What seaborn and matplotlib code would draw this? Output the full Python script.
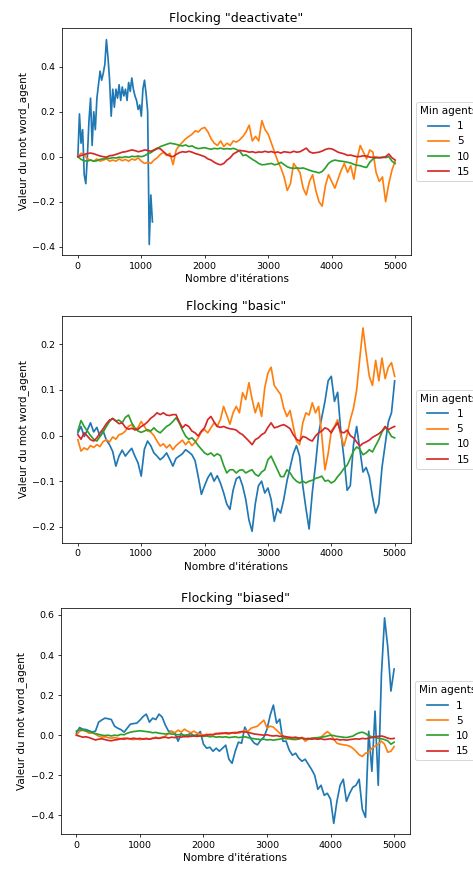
import matplotlib
matplotlib.use("Agg")
import matplotlib.pyplot as plt
import seaborn as sns
import pandas as pd

# Iteration grids
iterations = list(range(0, 5001, 50))
iterations_deact_1 = list(range(0, 1176, 25))

min_agents = ["1", "5", "10", "15"]
titles = ['Flocking "deactivate"', 'Flocking "basic"', 'Flocking "biased"']
x_label = "Nombre d'itérations"
y_label = "Valeur du mot word_agent"

# ---- Flocking "deactivate" ----
deact_1 = [
    0.00, 0.19, 0.06, 0.12, -0.08, -0.12, 0.00, 0.16, 0.26, 0.05,
    0.20, 0.12, 0.26, 0.32, 0.38, 0.34, 0.37, 0.41, 0.52, 0.44,
    0.34, 0.18, 0.30, 0.22, 0.30, 0.26, 0.32, 0.25, 0.31, 0.27,
    0.30, 0.25, 0.33, 0.29, 0.35, 0.30, 0.27, 0.25, 0.21, 0.23,
    0.18, 0.30, 0.34, 0.28, 0.20, -0.39, -0.17, -0.29,
]
deact_5 = [
    0.00, 0.015, 0.01, -0.01, -0.015, -0.02, -0.01, -0.02, -0.015, -0.01,
    -0.02, -0.015, -0.02, -0.01, -0.018, -0.012, -0.02, -0.01, -0.015, -0.005,
    -0.02, -0.03, -0.025, -0.03, -0.015, -0.005, 0.01, 0.02, 0.005, 0.015,
    -0.035, 0.03, 0.05, 0.065, 0.08, 0.09, 0.10, 0.115, 0.11, 0.125,
    0.13, 0.11, 0.08, 0.06, 0.05, 0.07, 0.045, 0.06, 0.05, 0.07,
    0.065, 0.075, 0.09, 0.11, 0.14, 0.07, 0.09, 0.07, 0.16, 0.12,
    0.10, 0.06, 0.02, -0.02, -0.05, -0.09, -0.15, -0.12, -0.03, -0.05,
    -0.07, -0.14, -0.17, -0.11, -0.08, -0.15, -0.20, -0.22, -0.13, -0.08,
    -0.11, -0.14, -0.10, -0.06, -0.03, -0.07, -0.04, -0.10, -0.01, 0.05,
    0.02, -0.01, 0.03, 0.02, -0.07, -0.11, -0.09, -0.20, -0.12, -0.06,
    -0.02,
]
deact_10 = [
    0.0, -0.012, -0.018, -0.02, -0.015, -0.02, -0.018, -0.012, -0.01, -0.006,
    -0.008, -0.004, -0.006, -0.002, -0.004, 0.0, -0.003, 0.002, 0.0, 0.003,
    0.0, 0.004, 0.012, 0.018, 0.028, 0.035, 0.045, 0.05, 0.055, 0.06,
    0.058, 0.055, 0.05, 0.048, 0.052, 0.045, 0.048, 0.04, 0.036, 0.038,
    0.04, 0.036, 0.033, 0.037, 0.035, 0.038, 0.034, 0.036, 0.034, 0.037,
    0.032, 0.025, 0.005, 0.008, -0.002, -0.012, -0.02, -0.03, -0.036, -0.035,
    -0.032, -0.03, -0.036, -0.033, -0.025, -0.035, -0.045, -0.05, -0.052, -0.05,
    -0.052, -0.05, -0.055, -0.06, -0.065, -0.068, -0.072, -0.066, -0.05, -0.03,
    -0.02, -0.015, -0.018, -0.02, -0.022, -0.025, -0.028, -0.034, -0.038, -0.04,
    -0.045, -0.048, -0.025, -0.01, -0.005, -0.004, -0.002, -0.004, 0.0, -0.02,
    -0.03,
]
deact_15 = [
    0.0, 0.005, 0.01, 0.014, 0.016, 0.013, 0.008, 0.003, 0.0, -0.002,
    0.004, 0.006, 0.01, 0.015, 0.02, 0.022, 0.026, 0.03, 0.027, 0.022,
    0.025, 0.03, 0.028, 0.024, 0.03, 0.038, 0.035, 0.022, 0.01, 0.003,
    0.0, 0.01, 0.018, 0.022, 0.02, 0.024, 0.02, 0.014, 0.01, 0.005,
    0.0, -0.01, -0.015, -0.025, -0.032, -0.036, -0.03, -0.015, -0.005, 0.012,
    0.02, 0.028, 0.026, 0.024, 0.02, 0.022, 0.018, 0.021, 0.02, 0.024,
    0.02, 0.023, 0.018, 0.021, 0.016, 0.022, 0.02, 0.018, 0.024, 0.02,
    0.022, 0.03, 0.038, 0.022, 0.016, 0.018, 0.02, 0.025, 0.032, 0.036,
    0.035, 0.028, 0.02, 0.016, 0.012, 0.006, 0.007, 0.003, 0.0, 0.001,
    0.004, 0.003, -0.002, -0.003, -0.002, -0.005, -0.004, 0.0, 0.012, -0.005,
    -0.015,
]

# ---- Flocking "basic" ----
basic_1 = [
    0.006, 0.02, -0.002, 0.012, 0.028, 0.008, 0.018, -0.002, 0.01, -0.01,
    -0.02, -0.035, -0.067, -0.045, -0.032, -0.045, -0.036, -0.028, -0.045, -0.06,
    -0.089, -0.03, -0.012, -0.022, -0.038, -0.045, -0.053, -0.047, -0.038, -0.052,
    -0.067, -0.05, -0.045, -0.04, -0.031, -0.036, -0.042, -0.055, -0.09, -0.129,
    -0.11, -0.093, -0.082, -0.1, -0.088, -0.104, -0.125, -0.15, -0.162, -0.12,
    -0.095, -0.09, -0.11, -0.14, -0.185, -0.21, -0.15, -0.11, -0.1, -0.126,
    -0.115, -0.14, -0.188, -0.16, -0.17, -0.14, -0.1, -0.07, -0.04, -0.022,
    -0.045, -0.11, -0.16, -0.205, -0.125, -0.065, 0.005, 0.04, 0.075, 0.12,
    0.13, 0.075, 0.095, 0.01, -0.05, -0.12, -0.11, -0.02, 0.02, -0.03,
    -0.08, -0.07, -0.09, -0.135, -0.17, -0.15, -0.07, -0.02, 0.03, 0.05,
    0.12,
]
basic_5 = [
    -0.009, -0.034, -0.027, -0.031, -0.022, -0.026, -0.02, -0.024, -0.013, -0.009,
    -0.014, -0.003, -0.008, 0.002, 0.004, 0.01, 0.02, 0.024, 0.012, 0.018,
    0.031, 0.02, 0.01, 0.008, 0.0, -0.012, -0.023, -0.018, -0.027, -0.02,
    -0.031, -0.022, -0.016, -0.01, -0.02, -0.012, -0.022, -0.015, -0.005, 0.008,
    0.013, 0.006, 0.017, 0.028, 0.02, 0.035, 0.064, 0.045, 0.025, 0.05,
    0.064, 0.05, 0.094, 0.079, 0.116, 0.08, 0.05, 0.072, 0.042, 0.105,
    0.137, 0.15, 0.11, 0.1, 0.09, 0.06, 0.042, 0.055, 0.02, -0.012,
    -0.02, 0.028, 0.05, 0.045, 0.072, 0.05, 0.064, 0.0, -0.075, -0.04,
    0.01, 0.02, 0.035, 0.0, -0.023, 0.002, 0.035, 0.06, 0.1, 0.17,
    0.236, 0.18, 0.13, 0.11, 0.165, 0.12, 0.17, 0.125, 0.15, 0.16,
    0.13,
]
basic_10 = [
    0.01, 0.033, 0.02, 0.01, 0.0, -0.008, -0.012, -0.002, 0.008, 0.02,
    0.031, 0.038, 0.032, 0.034, 0.028, 0.04, 0.045, 0.028, 0.017, 0.01,
    0.007, 0.01, 0.013, 0.01, 0.017, 0.01, 0.006, 0.013, 0.02, 0.024,
    0.031, 0.039, 0.028, 0.012, -0.001, -0.008, -0.005, -0.012, -0.022, -0.03,
    -0.038, -0.042, -0.038, -0.045, -0.04, -0.044, -0.065, -0.082, -0.075, -0.075,
    -0.082, -0.076, -0.075, -0.082, -0.078, -0.075, -0.085, -0.089, -0.08, -0.075,
    -0.053, -0.045, -0.06, -0.075, -0.09, -0.09, -0.075, -0.082, -0.093, -0.1,
    -0.104, -0.1, -0.104, -0.1, -0.098, -0.094, -0.092, -0.089, -0.1, -0.098,
    -0.104, -0.1, -0.09, -0.082, -0.072, -0.065, -0.05, -0.034, -0.025, -0.03,
    -0.042, -0.038, -0.031, -0.036, -0.022, -0.009, 0.008, 0.018, 0.01, -0.002,
    -0.005,
]
basic_15 = [
    0.002, -0.008, 0.006, -0.001, -0.009, -0.012, -0.005, 0.006, 0.015, 0.026,
    0.034, 0.037, 0.032, 0.026, 0.028, 0.018, 0.014, 0.016, 0.013, 0.014,
    0.02, 0.024, 0.03, 0.038, 0.043, 0.05, 0.046, 0.05, 0.045, 0.044,
    0.046, 0.046, 0.03, 0.017, 0.024, 0.02, 0.01, 0.006, -0.001, 0.01,
    0.017, 0.035, 0.042, 0.03, 0.02, 0.018, 0.02, 0.017, 0.015, 0.014,
    0.012, 0.006, 0.002, -0.005, -0.012, -0.02, -0.009, -0.005, 0.002, 0.006,
    0.018, 0.028, 0.017, 0.019, 0.022, 0.024, 0.02, 0.015, 0.002, -0.008,
    -0.012, -0.002, -0.004, -0.009, -0.012, -0.001, 0.006, 0.01, 0.017, 0.014,
    0.006, 0.018, 0.028, 0.008, 0.006, 0.012, 0.0, -0.005, -0.014, -0.023,
    -0.017, -0.014, -0.01, -0.004, 0.0, 0.004, 0.01, 0.02, 0.013, 0.017,
    0.02,
]

# ---- Flocking "biased" ----
biased_1 = [
    0.01, 0.038, 0.03, 0.028, 0.022, 0.016, 0.02, 0.065, 0.076, 0.085,
    0.082, 0.078, 0.045, 0.035, 0.028, 0.015, 0.035, 0.055, 0.058, 0.06,
    0.075, 0.093, 0.105, 0.065, 0.085, 0.078, 0.105, 0.09, 0.05, 0.02,
    0.018, 0.01, -0.03, 0.008, -0.008, 0.0, 0.01, -0.005, 0.002, 0.018,
    -0.045, -0.065, -0.06, -0.08, -0.065, -0.08, -0.065, -0.05, -0.12, -0.14,
    -0.08, -0.035, -0.04, 0.04, 0.01, -0.02, -0.04, -0.048, -0.025, -0.01,
    0.03, 0.1, 0.15, 0.06, 0.08, -0.03, -0.03, -0.075, -0.1, -0.09,
    -0.115, -0.13, -0.12, -0.145, -0.17, -0.2, -0.27, -0.25, -0.3, -0.29,
    -0.32, -0.44, -0.33, -0.25, -0.22, -0.33, -0.29, -0.26, -0.25, -0.22,
    -0.37, -0.41, 0.02, -0.18, 0.12, -0.25, 0.3, 0.585, 0.44, 0.22,
    0.33,
]
biased_5 = [
    0.0, 0.02, 0.025, 0.02, 0.01, 0.012, 0.005, -0.005, -0.01, -0.008,
    -0.012, -0.015, -0.012, -0.015, -0.018, -0.014, -0.016, -0.02, -0.022, -0.018,
    -0.022, -0.018, -0.015, -0.02, -0.015, -0.01, -0.015, -0.01, -0.005, 0.01,
    0.02, 0.012, 0.025, 0.015, 0.03, 0.02, 0.012, 0.02, 0.01, 0.005,
    0.0, 0.005, 0.0, 0.004, 0.01, 0.005, 0.012, 0.008, 0.005, 0.012,
    0.015, 0.01, 0.015, 0.025, 0.02, 0.035, 0.04, 0.045, 0.06, 0.075,
    0.035, 0.045, 0.04, 0.025, 0.01, -0.005, -0.02, -0.018, -0.022, -0.015,
    -0.02, -0.01, -0.03, -0.02, -0.015, -0.012, -0.02, -0.01, 0.005, 0.018,
    0.005, -0.02, -0.04, -0.045, -0.048, -0.05, -0.055, -0.065, -0.08, -0.098,
    -0.106, -0.09, -0.085, -0.065, -0.055, -0.045, -0.03, -0.045, -0.085, -0.08,
    -0.057,
]
biased_10 = [
    0.02, 0.028, 0.025, 0.022, 0.018, 0.012, 0.008, 0.004, 0.0, -0.002,
    0.0, -0.004, 0.0, -0.002, 0.004, 0.002, 0.01, 0.015, 0.018, 0.02,
    0.022, 0.02, 0.018, 0.016, 0.012, 0.014, 0.01, 0.008, 0.006, 0.008,
    0.006, 0.004, 0.002, 0.004, 0.0, 0.002, -0.002, 0.0, -0.002, -0.004,
    -0.006, -0.004, -0.008, -0.006, -0.01, -0.008, -0.01, -0.008, -0.012, -0.01,
    -0.008, -0.012, -0.01, -0.008, -0.012, -0.015, -0.018, -0.02, -0.022, -0.02,
    -0.024, -0.022, -0.025, -0.022, -0.02, -0.016, -0.014, -0.016, -0.02, -0.022,
    -0.018, -0.015, -0.018, -0.02, -0.016, -0.014, -0.012, -0.01, -0.008, -0.004,
    0.0, -0.002, -0.006, -0.008, -0.01, -0.012, -0.008, -0.005, 0.005, 0.012,
    0.015, 0.008, -0.002, -0.008, -0.01, -0.015, -0.018, -0.022, -0.028, -0.045,
    -0.035,
]
biased_15 = [
    0.0, -0.005, -0.01, -0.008, -0.012, -0.018, -0.024, -0.02, -0.018, -0.022,
    -0.026, -0.028, -0.024, -0.022, -0.018, -0.02, -0.016, -0.018, -0.015, -0.018,
    -0.016, -0.02, -0.018, -0.02, -0.016, -0.014, -0.016, -0.012, -0.01, -0.014,
    -0.01, -0.012, -0.008, -0.01, -0.006, -0.008, -0.006, -0.004, -0.006, -0.004,
    -0.002, 0.0, 0.004, 0.002, 0.006, 0.01, 0.008, 0.012, 0.01, 0.012,
    0.01, 0.015, 0.018, 0.016, 0.014, 0.01, 0.006, 0.004, 0.002, 0.0,
    0.002, -0.002, -0.004, -0.002, -0.006, -0.004, -0.008, -0.01, -0.012, -0.01,
    -0.014, -0.015, -0.018, -0.016, -0.02, -0.018, -0.02, -0.018, -0.022, -0.02,
    -0.018, -0.022, -0.02, -0.024, -0.022, -0.025, -0.022, -0.02, -0.018, -0.02,
    -0.016, -0.018, -0.015, -0.012, -0.008, -0.006, -0.004, -0.008, -0.015, -0.018,
    -0.016,
]


def long_frame(xs_list, ys_list):
    parts = []
    for label, xs, ys in zip(min_agents, xs_list, ys_list):
        parts.append(pd.DataFrame({"iteration": xs, "valeur": ys, "Min agents": label}))
    return pd.concat(parts, ignore_index=True)


panels = [
    long_frame([iterations_deact_1, iterations, iterations, iterations],
               [deact_1, deact_5, deact_10, deact_15]),
    long_frame([iterations] * 4, [basic_1, basic_5, basic_10, basic_15]),
    long_frame([iterations] * 4, [biased_1, biased_5, biased_10, biased_15]),
]

DPI = 68
W, H = 473, 869
plt.rcParams.update({
    "font.size": 11,
    "axes.titlesize": 13.2,
    "axes.labelsize": 11,
    "xtick.labelsize": 10,
    "ytick.labelsize": 10,
    "legend.fontsize": 11,
    "legend.title_fontsize": 11,
})
fig = plt.figure(figsize=(W / DPI, H / DPI), dpi=DPI)

# axes boxes in pixels: left, top, right, bottom
boxes = [(62, 28, 411, 255), (62, 315.7, 410.5, 542.7), (60.5, 607.7, 410, 834)]
ylims = [(-0.437, 0.572), (-0.235, 0.263), (-0.493, 0.636)]
palette = sns.color_palette("tab10", 4)

for df, title, (l, t, r, b), ylim in zip(panels, titles, boxes, ylims):
    ax = fig.add_axes([l / W, 1 - b / H, (r - l) / W, (b - t) / H])
    sns.lineplot(data=df, x="iteration", y="valeur", hue="Min agents",
                 hue_order=min_agents, palette=palette, estimator=None,
                 sort=False, linewidth=1.8, ax=ax)
    ax.set_xlim(-250, 5250)
    ax.set_ylim(*ylim)
    ax.set_title(title)
    ax.set_xlabel(x_label)
    ax.set_ylabel(y_label)
    ax.legend(title="Min agents", loc="center left", bbox_to_anchor=(1, 0.5))

fig.savefig("out.png", dpi=DPI)
